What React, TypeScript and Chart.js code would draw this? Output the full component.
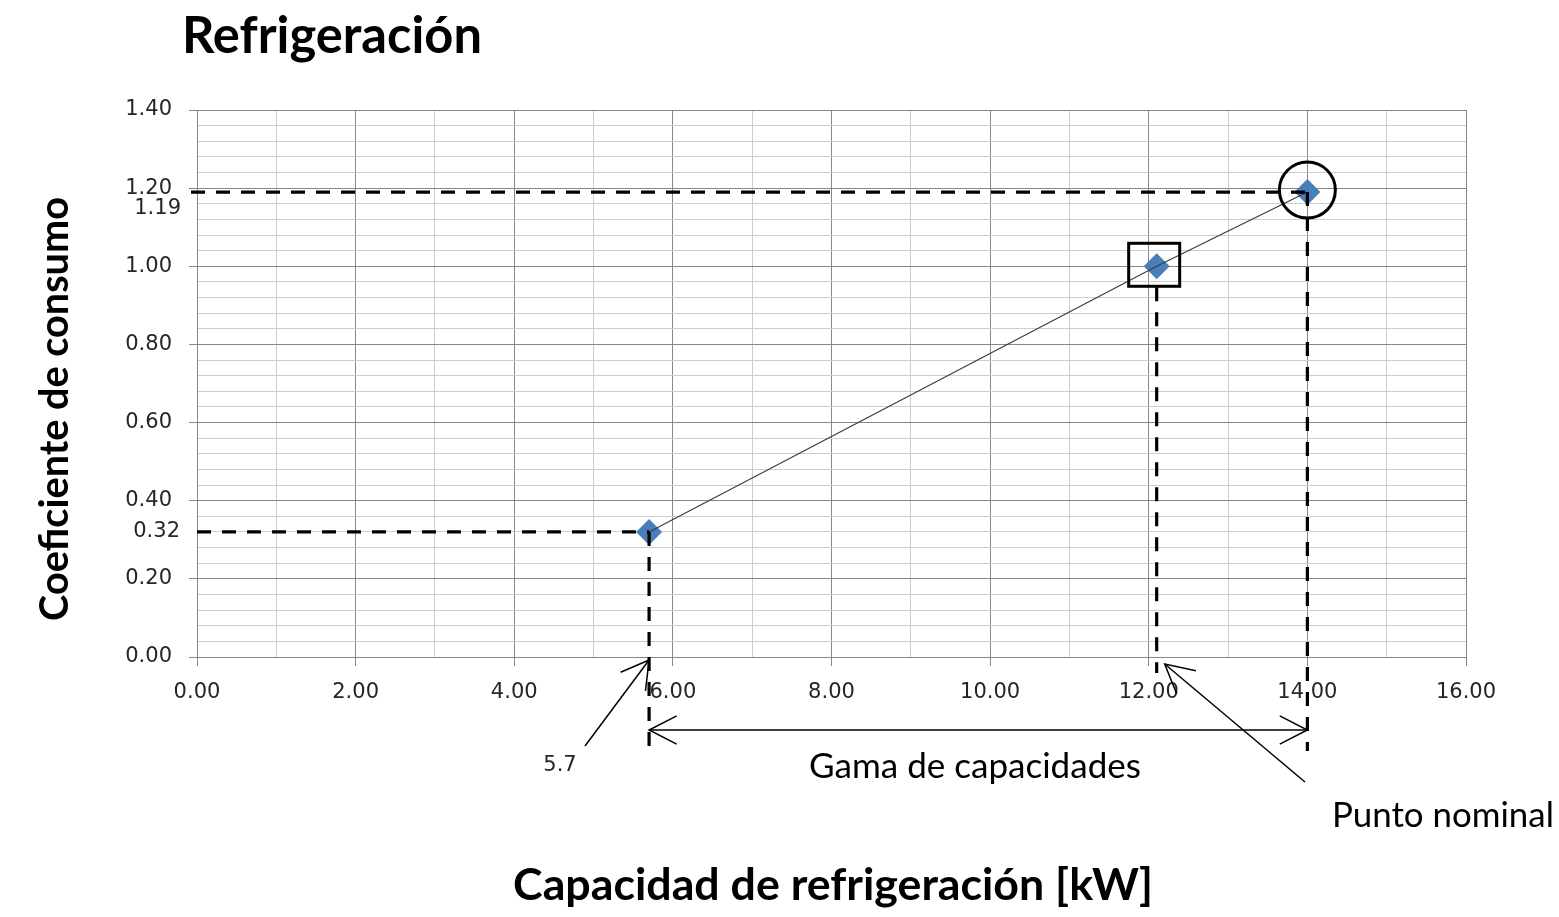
import React, { useEffect, useRef } from 'react';
import { Chart, registerables } from 'chart.js';

Chart.register(...registerables);

// ---- data ----
const capacity = [5.7, 12.1, 14.0];
const coefficient = [0.32, 1.0, 1.19];
const extraYLabels = ['0.32', '1.19'];
const titleText = 'Refrigeración';
const xTitle = 'Capacidad de refrigeración [kW]';
const yTitle = 'Coeficiente de consumo';
const rangeText = 'Gama de capacidades';
const nominalText = 'Punto nominal';
const minCapText = '5.7';

const X_MIN = 0, X_MAX = 16, X_STEP = 1;
const Y_MIN = 0, Y_MAX = 1.4, Y_STEP = 0.04;

const TICK_FONT = 'DejaVu Sans';
const TEXT_FONT = 'Lato';
const MAJOR = '#878787';
const MINOR = '#cdcdcd';
const TICK_COLOR = '#262626';

function isMajorX(v: number) { return Math.abs(v / 2 - Math.round(v / 2)) < 1e-6; }
function isMajorY(v: number) { return Math.abs(v * 5 - Math.round(v * 5)) < 1e-6; }

function fitFont(ctx: CanvasRenderingContext2D, text: string, weight: string, family: string, targetW: number) {
  ctx.font = `${weight} 100px ${family}`;
  const w = ctx.measureText(text).width;
  return `${weight} ${(100 * targetW / w).toFixed(2)}px ${family}`;
}

function drawArrow(ctx: CanvasRenderingContext2D, x1: number, y1: number, x2: number, y2: number, len: number, angDeg: number, shaft: boolean) {
  // open arrow head at (x2, y2)
  const a = Math.atan2(y1 - y2, x1 - x2);
  const d = (angDeg * Math.PI) / 180;
  if (shaft) {
    ctx.beginPath();
    ctx.moveTo(x1, y1);
    ctx.lineTo(x2, y2);
    ctx.stroke();
  }
  ctx.beginPath();
  ctx.moveTo(x2 + Math.cos(a + d) * len, y2 + Math.sin(a + d) * len);
  ctx.lineTo(x2, y2);
  ctx.lineTo(x2 + Math.cos(a - d) * len, y2 + Math.sin(a - d) * len);
  ctx.stroke();
}

const annotations = {
  id: 'annotations',
  afterDatasetsDraw(chart: any) {
    const { ctx, chartArea, scales } = chart;
    const xs = scales.x, ys = scales.y;
    const px = (v: number) => xs.getPixelForValue(v);
    const py = (v: number) => ys.getPixelForValue(v);
    const axisY = py(0);
    const line = (a: number, b: number, c: number, d: number) => {
      ctx.beginPath(); ctx.moveTo(a, b); ctx.lineTo(c, d); ctx.stroke();
    };
    ctx.save();
    // dashed guide lines
    ctx.strokeStyle = '#000';
    ctx.lineWidth = 3.2;
    ctx.setLineDash([14, 11]);
    line(chartArea.left - 6, py(coefficient[2]), px(capacity[2]), py(coefficient[2]));
    line(chartArea.left, py(coefficient[0]), px(capacity[0]), py(coefficient[0]));
    line(px(capacity[0]), py(coefficient[0]), px(capacity[0]), axisY + 92);
    line(px(capacity[1]), py(coefficient[1]) + 21, px(capacity[1]), axisY + 16);
    line(px(capacity[2]), py(coefficient[2]), px(capacity[2]), axisY + 94);
    ctx.setLineDash([]);

    // box around point 2
    ctx.lineWidth = 3;
    const bx = px(capacity[1]), by = py(coefficient[1]);
    ctx.strokeRect(bx - 28, by - 23, 51, 43);
    // circle around point 3
    ctx.beginPath();
    ctx.arc(px(capacity[2]), py(coefficient[2]) - 2, 28, 0, Math.PI * 2);
    ctx.stroke();

    // range double arrow
    ctx.lineWidth = 1.5;
    const ay = axisY + 73;
    const ax1 = px(capacity[0]), ax2 = px(capacity[2]);
    drawArrow(ctx, ax1, ay, ax2, ay, 31, 27, true);
    drawArrow(ctx, ax2, ay, ax1, ay, 31, 27, false);

    // 5.7 arrow
    drawArrow(ctx, 585, 746, px(capacity[0]), axisY + 3, 31, 30, true);
    // punto nominal arrow
    drawArrow(ctx, 1305, 782, px(capacity[1]) + 8, axisY + 7, 32, 28, true);

    // extra y labels
    ctx.fillStyle = TICK_COLOR;
    ctx.font = `21px ${TICK_FONT}`;
    ctx.textAlign = 'right';
    ctx.textBaseline = 'middle';
    ctx.fillText(extraYLabels[0], chartArea.left - 17, py(coefficient[0]));
    ctx.fillText(extraYLabels[1], chartArea.left - 16, py(coefficient[2]) + 16);
    ctx.textAlign = 'center';
    ctx.fillText(minCapText, 560, 766);

    // texts
    ctx.fillStyle = '#000';
    ctx.textBaseline = 'alphabetic';
    ctx.textAlign = 'left';
    ctx.font = fitFont(ctx, titleText, 'bold', TEXT_FONT, 300);
    ctx.fillText(titleText, 182, 53);

    ctx.textAlign = 'center';
    ctx.font = fitFont(ctx, xTitle, 'bold', TEXT_FONT, 640);
    ctx.fillText(xTitle, 833, 900);

    ctx.font = fitFont(ctx, rangeText, 'normal', TEXT_FONT, 332);
    ctx.fillText(rangeText, 975, 778);

    ctx.textAlign = 'left';
    ctx.font = fitFont(ctx, nominalText, 'normal', TEXT_FONT, 222);
    ctx.fillText(nominalText, 1332, 827);

    ctx.save();
    ctx.translate(68, 409);
    ctx.rotate(-Math.PI / 2);
    ctx.textAlign = 'center';
    ctx.font = fitFont(ctx, yTitle, 'bold', TEXT_FONT, 424);
    ctx.fillText(yTitle, 0, 0);
    ctx.restore();

    ctx.restore();
  },
};

export default function App() {
  const ref = useRef<HTMLCanvasElement | null>(null);
  useEffect(() => {
    if (!ref.current) return;
    const points = capacity.map((c, i) => ({ x: c, y: coefficient[i] }));
    const chart = new Chart(ref.current, {
      type: 'scatter',
      data: {
        datasets: [
          {
            label: 'line',
            data: points,
            showLine: true,
            borderColor: '#3c3c3c',
            borderWidth: 1.2,
            pointRadius: 0,
            pointHoverRadius: 0,
          },
          {
            label: 'points',
            data: points,
            showLine: false,
            pointStyle: 'rectRot',
            pointRadius: 13,
            pointHoverRadius: 13,
            pointBackgroundColor: '#4a7ebb',
            pointBorderColor: '#4a7ebb',
            pointBorderWidth: 0,
          },
        ],
      },
      options: {
        animation: false,
        responsive: false,
        devicePixelRatio: 1,
        layout: { padding: { left: 0, top: 110, right: 93, bottom: 0 } },
        plugins: { legend: { display: false }, tooltip: { enabled: false }, title: { display: false } },
        scales: {
          x: {
            type: 'linear',
            min: X_MIN,
            max: X_MAX,
            afterFit: (s: any) => { s.height = 260; },
            border: { color: MAJOR, width: 1 },
            grid: {
              color: (c: any) => (isMajorX(c.tick.value) ? MAJOR : MINOR),
              tickColor: (c: any) => (isMajorX(c.tick.value) ? MAJOR : 'rgba(0,0,0,0)'),
              tickLength: 9,
              lineWidth: 1,
            },
            ticks: {
              stepSize: X_STEP,
              autoSkip: false,
              maxRotation: 0,
              padding: 14,
              color: TICK_COLOR,
              font: { family: TICK_FONT, size: 21 },
              callback: (v: any) => (isMajorX(Number(v)) ? Number(v).toFixed(2) : ''),
            },
          },
          y: {
            type: 'linear',
            min: Y_MIN,
            max: Y_MAX,
            afterFit: (s: any) => { s.width = 197; },
            border: { color: MAJOR, width: 1 },
            grid: {
              color: (c: any) => (isMajorY(c.tick.value) ? MAJOR : MINOR),
              tickColor: (c: any) => (isMajorY(c.tick.value) ? MAJOR : 'rgba(0,0,0,0)'),
              tickLength: 8,
              lineWidth: 1,
            },
            ticks: {
              stepSize: Y_STEP,
              autoSkip: false,
              padding: 17,
              color: TICK_COLOR,
              font: { family: TICK_FONT, size: 21 },
              callback: (v: any) => (isMajorY(Number(v)) ? Number(v).toFixed(2) : ''),
            },
          },
        },
      },
      plugins: [annotations],
    } as any);
    return () => chart.destroy();
  }, []);
  return (
    <div style={{ position: 'absolute', left: 0, top: 0, width: 1559, height: 917, background: '#fff' }}>
      <canvas ref={ref} width={1559} height={917} style={{ width: 1559, height: 917, display: 'block' }} />
    </div>
  );
}
